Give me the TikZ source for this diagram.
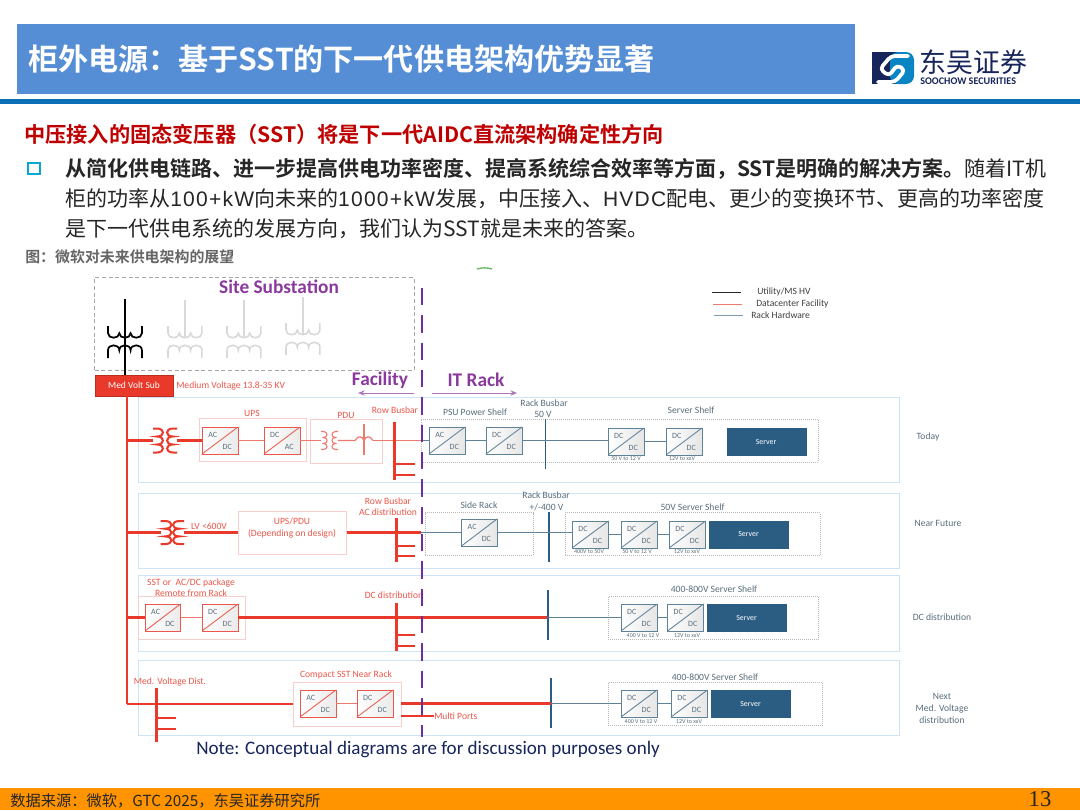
\documentclass[tikz,border=0pt]{standalone}
\usepackage{fontspec}
\setmainfont{Carlito}
\newfontfamily\cjk[BoldFont={Noto Sans CJK SC Bold}]{Noto Sans CJK SC}
\newfontfamily\lat[LetterSpace=6]{Liberation Sans}
\newfontfamily\tnr{Liberation Serif}
\usetikzlibrary{arrows.meta}
\definecolor{rd}{HTML}{E8392A}
\definecolor{rdl}{HTML}{EE7A6E}
\definecolor{rdb}{HTML}{F9CFCB}
\definecolor{rowb}{HTML}{CDE4F6}
\definecolor{bl}{HTML}{5F8298}
\definecolor{srv}{HTML}{2B5D83}
\definecolor{pur}{HTML}{6B2FA0}
\definecolor{purt}{HTML}{8A3A9C}
\definecolor{hdr}{HTML}{558ED5}
\definecolor{rule}{HTML}{0B6FB8}
\definecolor{txtg}{HTML}{5A6E7C}
\definecolor{navy}{HTML}{17255A}
\newcommand\fs[1]{\fontsize{#1}{#1}\selectfont}
\newcommand\pbox[6]{%
  \pgfmathsetmacro\bw{(#5-#3)*0.75}\pgfmathsetmacro\bh{(#6-#4)*0.75}%
  \node[#2,minimum width=\bw pt,minimum height=\bh pt,inner sep=0pt,outer sep=0pt,anchor=north west] (#1) at (#3,#4) {};}
\newcommand\conv[8]{%
  \pbox{#1}{#6}{#2}{#3}{#4}{#5}%
  \draw[#6d] (#1.south west) -- (#1.north east);
  \pgfmathsetmacro\ax{#2+0.3*(#4-#2)}\pgfmathsetmacro\ay{#3+0.3*(#5-#3)}%
  \pgfmathsetmacro\bx{#2+0.7*(#4-#2)}\pgfmathsetmacro\by{#3+0.72*(#5-#3)}%
  \node[lab6,text=txtg] (#1-a) at (\ax,\ay) {#7};
  \node[lab6,text=txtg] (#1-b) at (\bx,\by) {#8};}
\newcommand\coilV[5]{\begin{scope}[shift={(#1,#2)},xscale=#3,yscale=#4]
  \draw[#5] (0,0) -- (.4,0) .. controls (1.2,0) and (1.2,1) .. (.4,1) .. controls (1.2,1) and (1.2,2) .. (.4,2) .. controls (1.2,2) and (1.2,3) .. (.4,3) -- (0,3);
  \end{scope}}
\newcommand\coilH[5]{\begin{scope}[shift={(#1,#2)},xscale=#3,yscale=#4]
  \draw[#5] (0,0) -- (0,.6) .. controls (0,1.1) and (1,1.1) .. (1,.6) .. controls (1,1.1) and (2,1.1) .. (2,.6) .. controls (2,1.1) and (3,1.1) .. (3,.6) -- (3,0);
  \end{scope}}
\newcommand\sub[3]{% x, y offset, style
  \pgfmathsetmacro\sx{#1-17}\pgfmathsetmacro\sya{326+#2}\pgfmathsetmacro\syb{358+#2}%
  \coilH{\sx}{\sya}{11.3}{12}{#3}
  \coilH{\sx}{\syb}{11.3}{-13}{#3}}
\tikzset{
  rowbox/.style={draw=rowb,line width=.6pt,fill=white},
  lbox/.style={draw=rdb,line width=.6pt},
  shelf/.style={draw=black!28,line width=.5pt,densely dotted},
  crd/.style={draw=rd!85!white,line width=.65pt,left color=white,right color=black!8},
  cbl/.style={draw=bl,line width=.65pt,left color=white,right color=black!10},
  crdd/.style={draw=rd!85!white,line width=.65pt},
  cbld/.style={draw=bl,line width=.65pt},
  srvbox/.style={fill=srv,draw=srv},
  thk/.style={draw=rd,line width=1.7pt},
  thn/.style={draw=rdl,line width=.9pt},
  bthn/.style={draw=bl,line width=.8pt},
  bus/.style={fill=rd,draw=none},
  bbus/.style={fill=srv,draw=none},
  lab/.style={inner sep=0pt,font=\fs{7.2}},
  lab6/.style={inner sep=0pt,font=\fs{6}},
  labr/.style={lab,text=rd!85!white},
  labg/.style={lab,text=txtg},
  tiny/.style={inner sep=0pt,font=\fs{4.5},text=txtg},
  srvt/.style={inner sep=0pt,font=\fs{5.9},text=white},
  zone/.style={inner sep=0pt,font=\bfseries\fs{14.5},text=purt},
  zar/.style={draw=purt!70!white,line width=.7pt,-{Stealth[length=5pt,width=4pt]}},
  cjkl/.style={inner sep=0pt,anchor=west,font=\cjk\fs{15.75},text=black!85},
}
\begin{document}
\begin{tikzpicture}[x=0.75pt,y=-0.75pt]
\useasboundingbox (0,0) rectangle (1080,810);
\fill[white] (0,0) rectangle (1080,810);
% header
\pbox{hd}{fill=hdr}{17}{24}{855}{94}
\node[inner sep=0pt,anchor=west,text=white,font=\cjk\bfseries\fs{22.55}] (title) at (28,59) {柜外电源：基于SST的下一代供电架构优势显著};
\pbox{rl}{fill=rule}{0}{99}{1080}{104}
% logo
\pbox{lg}{fill=navy}{872}{52}{903}{84}
\fill[rule!85!cyan,rounded corners=6pt] (890,52) rectangle (914,84);
\draw[white,line width=2.8pt,line cap=round,line join=round,rounded corners=3pt] (908,56) -- (891,56) -- (880,69) -- (889,76) -- (897,65) -- (905,70) -- (895,82) -- (878,82);
\node[inner sep=0pt,anchor=west,text=navy,font=\cjk\fs{20.2}] (lgc) at (919,62) {东吴证券};
\node[inner sep=0pt,anchor=west,text=navy,font=\bfseries\fs{7.6}] (lge) at (920,81) {SOOCHOW SECURITIES};
% text
\node[inner sep=0pt,anchor=west,text=red!75!black,font=\cjk\bfseries\fs{15.9}] (h1) at (24,134) {中压接入的固态变压器（SST）将是下一代AIDC直流架构确定性方向};
\pbox{bul}{draw=rule!60!cyan,line width=2.2pt}{28}{163}{40}{174}
\node[cjkl] (l1) at (65,169) {\textbf{从简化供电链路、进一步提高供电功率密度、提高系统综合效率等方面，SST是明确的解决方案。}随着IT机};
\node[cjkl] (l2) at (65,199) {柜的功率从{\lat 100+kW}向未来的{\lat 1000+kW}发展，中压接入、{\lat HVDC}配电、更少的变换环节、更高的功率密度};
\node[cjkl] (l3) at (65,229) {是下一代供电系统的发展方向，我们认为SST就是未来的答案。};
\node[inner sep=0pt,anchor=west,text=black!60,font=\cjk\bfseries\fs{11.2}] (cap) at (25,257) {图：微软对未来供电架构的展望};
\draw[green!55!black!60,line width=1pt] (477,269) .. controls (482,267.5) and (487,267.5) .. (492,269);
% footer
\pbox{ft}{fill=orange!85!yellow}{0}{788}{1080}{810}
\node[inner sep=0pt,anchor=west,text=black!85,font=\cjk\fs{11.45}] (src) at (10,801) {数据来源：微软，GTC 2025，东吴证券研究所};
\node[inner sep=0pt,text=black!85,font=\tnr\fs{17}] (pg) at (1040,799) {13};
% substation
\pbox{ss}{draw=black!35,densely dashed,line width=.5pt}{94.5}{277.5}{414}{370}
\node[zone] (sst) at (279,286.5) {Site Substation};
\draw[black,line width=1.3pt] (125,299) -- (125,375);
\sub{125}{0}{black,line width=1.3pt}
\draw[black!15,line width=1.2pt] (185,300) -- (185,337);
\sub{185}{0}{black!15,line width=1.2pt}
\draw[black!15,line width=1.2pt] (244,300) -- (244,337);
\sub{244}{0}{black!15,line width=1.2pt}
\draw[black!15,line width=1.2pt] (303,297) -- (303,334);
\sub{303}{-3}{black!15,line width=1.2pt}
% rows
\pbox{row1}{rowbox}{138}{397}{899}{482}
\pbox{row2}{rowbox}{138}{493}{899}{568}
\pbox{row3}{rowbox}{138}{575}{899}{651}
\pbox{row4}{rowbox}{138}{660}{899}{735}
\pbox{mvs}{fill=rd,draw=rd!80!black,line width=.4pt}{95}{375}{173}{396}
\node[inner sep=0pt,text=white,font=\fs{7.1}] (mvst) at (134,385.5) {Med Volt Sub};
\node[labr,anchor=west] (mvl) at (176,385.5) {Medium Voltage 13.8-35 KV};
% zones
\coordinate (pt) at (421.5,288); \coordinate (pb) at (421.5,737);
\coordinate (fa) at (414,393); \coordinate (fb) at (358,393);
\coordinate (ia) at (432,393); \coordinate (ib) at (517,393);
\node[zone] (fac) at (380,380) {Facility};
\node[zone] (itr) at (476,380) {IT Rack};
\draw[zar] (fa) -- (fb);
\draw[zar] (ia) -- (ib);
% trunk
\coordinate (t0) at (127,396); \coordinate (t1) at (127,440.5); \coordinate (t2) at (127,532.5); \coordinate (t3) at (127,617.5); \coordinate (t4) at (127,704);
\draw[thk,line join=miter] (t0) -- (t4);
% ROW 1
\pbox{ups}{lbox}{199}{418}{306}{461}
\pbox{pdu}{lbox}{310}{419}{382}{463}
\node[labr] (upsl) at (252,413) {UPS};
\node[labr] (pdul) at (346,415) {PDU};
\conv{a1}{202}{427}{238}{454}{crd}{AC}{DC}
\conv{a2}{264}{427}{300}{454}{crd}{DC}{AC}
\coordinate (x1l) at (153,440.5); \coordinate (x1r) at (177,440.5);
\coilV{153}{428.5}{10}{8}{rd,line width=1.5pt}
\coilV{177}{428.5}{-10}{8}{rd,line width=1.5pt}
\draw[thk] (t1) -- (x1l);
\draw[thk] (x1r) -- (a1.west);
\draw[thn] (a1.east) -- (a2.west);
\coordinate (x1c) at (321,440.5); \coordinate (x1d) at (338,440.5); \coordinate (br) at (364,440.5);
\draw[thn] (a2.east) -- (x1c);
\coilV{321}{431.5}{6}{6}{rdl,line width=.8pt}
\coilV{338}{431.5}{-6}{6}{rdl,line width=.8pt}
\draw[rdl,line width=.8pt] (364,424) -- (364,455);
\coordinate (b1a) at (355,440.5); \coordinate (b1b) at (373,440.5);
\draw[thn] (x1d) -- (b1a) .. controls (358,435.5) and (362,435.5) .. (br) .. controls (366,435.5) and (370,435.5) .. (b1b);
\pbox{b1}{bus}{392.5}{422}{395.5}{480}
\coordinate (b1e) at (421,440.5); \coordinate (b1s) at (394,464); \coordinate (b1t) at (394,475); \coordinate (b1u) at (415,464); \coordinate (b1v) at (415,475);
\draw[thn] (b1b) -- (b1.west |- b1b);
\draw[thn] (b1.east |- b1b) -- (b1e);
\draw[thk] (b1s) -- (b1u); \draw[thk] (b1t) -- (b1v);
\node[labr] (rb1) at (395,410) {Row Busbar};
\pbox{sh1}{shelf}{421}{419}{818}{462}
\node[labg] (psu) at (475,412) {PSU Power Shelf};
\conv{a3}{429}{427}{465}{454}{cbl}{AC}{DC}
\conv{a4}{486}{427}{522}{454}{cbl}{DC}{DC}
\conv{a5}{608}{428}{644}{455}{cbl}{DC}{DC}
\conv{a6}{666}{428}{702}{455}{cbl}{DC}{DC}
\pbox{sv1}{srvbox}{727}{428}{806}{455}
\node[srvt] (sv1t) at (766,442) {Server};
\pbox{rb}{bbus}{545}{419}{546}{469}
\draw[bthn] (b1e) -- (a3.west);
\draw[bthn] (a3.east) -- (a4.west);
\draw[bthn] (a4.east) -- (a4.east -| a5.west);
\draw[bthn] (a5.east) -- (a6.west);
\node[labg] (rbl) at (544,403) {Rack Busbar};
\node[labg] (rbv) at (543,414) {50 V};
\node[labg] (ssl) at (691,410) {Server Shelf};
\node[tiny] (a5l) at (626,459) {50 V to 12 V};
\node[tiny] (a6l) at (682,459) {12V to xxV};
\node[labg] (today) at (928,436.5) {Today};
% ROW 2
\coilV{160.5}{521}{11}{7.7}{rd,line width=1.5pt}
\coilV{184}{521}{-11}{7.7}{rd,line width=1.5pt}
\coordinate (x2l) at (161,532.5); \coordinate (x2r) at (184,532.5);
\pbox{up2}{lbox}{238}{511}{346.5}{554}
\node[labr,align=center,text=rd!85!white] (up2t) at (292,528) {UPS/PDU\\[1.5pt](Depending on design)};
\node[labr] (lv) at (209,526) {LV <600V};
\pbox{b2}{bus}{394.5}{518}{397.5}{562}
\coordinate (b2e) at (421,532.5); \coordinate (b2s) at (396,546); \coordinate (b2t) at (396,556); \coordinate (b2u) at (415,546); \coordinate (b2v) at (415,556);
\draw[thk] (t2) -- (x2l);
\draw[thk] (x2r) -- (up2.west);
\draw[thk] (up2.east) -- (b2e);
\draw[thk] (b2s) -- (b2u); \draw[thk] (b2t) -- (b2v);
\node[labr,align=center] (rb2) at (388,506.5) {Row Busbar\\[1.5pt]AC distribution};
\pbox{sd}{shelf}{425}{512.5}{533}{555}
\node[labg] (sdl) at (479,505) {Side Rack};
\conv{c1}{461.5}{519}{497}{546}{cbl}{AC}{DC}
\pbox{rb2}{bbus}{548}{512}{550}{562}
\pbox{sh2}{shelf}{565}{512.5}{820}{555.5}
\node[labg] (sh2l) at (692.5,507.5) {50V Server Shelf};
\conv{c2}{572}{521}{608.5}{548}{cbl}{DC}{DC}
\conv{c3}{621}{521}{657}{548}{cbl}{DC}{DC}
\conv{c4}{669}{521}{705.5}{548}{cbl}{DC}{DC}
\pbox{sv2}{srvbox}{709}{521}{788}{548}
\node[srvt] (sv2t) at (748.5,534) {Server};
\draw[bthn] (b2e) -- (c1.west);
\draw[bthn] (c1.east) -- (c1.east -| c2.west);
\draw[bthn] (c2.east) -- (c3.west);
\draw[bthn] (c3.east) -- (c4.west);
\node[labg] (rb2l) at (546,495.5) {Rack Busbar};
\node[labg] (rb2v) at (546.5,507) {+/-400 V};
\node[tiny] (c2l) at (589,552) {400V to 50V};
\node[tiny] (c3l) at (637,552) {50 V to 12 V};
\node[tiny] (c4l) at (687,552) {12V to xxV};
\node[labg] (nf) at (938,523) {Near Future};
% ROW 3
\node[labr,align=center] (sl) at (191,587.5) {SST or\ \ AC/DC package\\[1.5pt]Remote from Rack};
\pbox{p3}{lbox}{138}{596}{245.5}{639.5}
\conv{d1}{145}{604}{180.5}{631}{crd}{AC}{DC}
\conv{d2}{202}{604}{238}{631}{crd}{DC}{DC}
\pbox{b3}{bus}{394.5}{603}{397.5}{651}
\pbox{rb3}{bbus}{546.5}{590}{548.5}{640}
\coordinate (b3s) at (396,635); \coordinate (b3t) at (396,646); \coordinate (b3u) at (415,635); \coordinate (b3v) at (415,646);
\coordinate (r3) at (547,617.5);
\draw[thk] (t3) -- (d1.west);
\draw[thn] (d1.east) -- (d2.west);
\draw[thk] (d2.east) -- (r3);
\draw[thk] (b3s) -- (b3u); \draw[thk] (b3t) -- (b3v);
\node[labr] (dcd) at (394,595) {DC distribution};
\pbox{sh3}{shelf}{608}{596}{818}{639.5}
\node[labg] (sh3l) at (714,589.5) {400-800V Server Shelf};
\conv{d3}{621}{604}{657}{631}{cbl}{DC}{DC}
\conv{d4}{667.5}{604}{703.5}{631}{cbl}{DC}{DC}
\pbox{sv3}{srvbox}{707}{604}{786}{631}
\node[srvt] (sv3t) at (746.5,618) {Server};
\draw[bthn] (r3) -- (d3.west);
\draw[bthn] (d3.east) -- (d4.west);
\node[tiny] (d3l) at (643,636) {400 V to 12 V};
\node[tiny] (d4l) at (687,636) {12V to xxV};
\node[labg] (dcr) at (942,617) {DC distribution};
% ROW 4
\pbox{b4}{bus}{154.5}{688}{157.5}{742}
\coordinate (b4s) at (156,718); \coordinate (b4t) at (156,729); \coordinate (b4u) at (176,718); \coordinate (b4v) at (176,729);
\draw[thk] (b4s) -- (b4u); \draw[thk] (b4t) -- (b4v);
\node[labr] (mvd) at (170,682) {Med. Voltage Dist.};
\pbox{p4}{lbox}{293}{682}{401}{726}
\node[labr] (csl) at (346,675) {Compact SST Near Rack};
\conv{e1}{300}{690}{336}{717}{crd}{AC}{DC}
\conv{e2}{357}{690}{393}{717}{crd}{DC}{DC}
\pbox{rb4}{bbus}{550}{678}{552}{728}
\coordinate (r4) at (551,703.5); \coordinate (mp) at (434,716); \coordinate (p4m) at (401,716);
\draw[thk] (t4) -- (p4.west |- t4);
\draw[thn] (e1.east) -- (e2.west);
\draw[thk] (p4.east |- r4) -- (r4);
\draw[thk] (p4m) -- (mp);
\node[labr,anchor=west] (mpt) at (434,716) {Multi Ports};
\pbox{sh4}{shelf}{608}{682}{822}{725.5}
\node[labg] (sh4l) at (715,677) {400-800V Server Shelf};
\conv{e3}{621}{690}{657}{717}{cbl}{DC}{DC}
\conv{e4}{671}{690}{707.5}{717}{cbl}{DC}{DC}
\pbox{sv4}{srvbox}{711}{690}{790}{717}
\node[srvt] (sv4t) at (750.5,704) {Server};
\draw[bthn] (r4) -- (e3.west);
\draw[bthn] (e3.east) -- (e4.west);
\node[tiny] (e3l) at (641,722) {400 V to 12 V};
\node[tiny] (e4l) at (689,722) {12V to xxV};
\node[labg,align=center] (nx) at (942,708.5) {Next\\[1.5pt]Med. Voltage\\[1.5pt]distribution};
% divider on top
\draw[pur,line width=1.5pt,dash pattern=on 13pt off 7.5pt] (pt) -- (pb);
% note
\node[inner sep=0pt,anchor=west,text=navy,font=\fs{14.3}] (note) at (196,750) {Note: Conceptual diagrams are for discussion purposes only};
% legend
\coordinate (k1a) at (712,292); \coordinate (k1b) at (741,292);
\coordinate (k2a) at (713,304); \coordinate (k2b) at (742,304);
\coordinate (k3a) at (714,315); \coordinate (k3b) at (743,315);
\draw[black!85,line width=.6pt] (k1a) -- (k1b);
\draw[rdl,line width=.7pt] (k2a) -- (k2b);
\draw[bl!80,line width=.7pt] (k3a) -- (k3b);
\node[lab,anchor=west,text=black!75] (k1t) at (757,292) {Utility/MS HV};
\node[lab,anchor=west,text=black!75] (k2t) at (756,304) {Datacenter Facility};
\node[lab,anchor=west,text=black!75] (k3t) at (751,315) {Rack Hardware};
\end{tikzpicture}
\end{document}
